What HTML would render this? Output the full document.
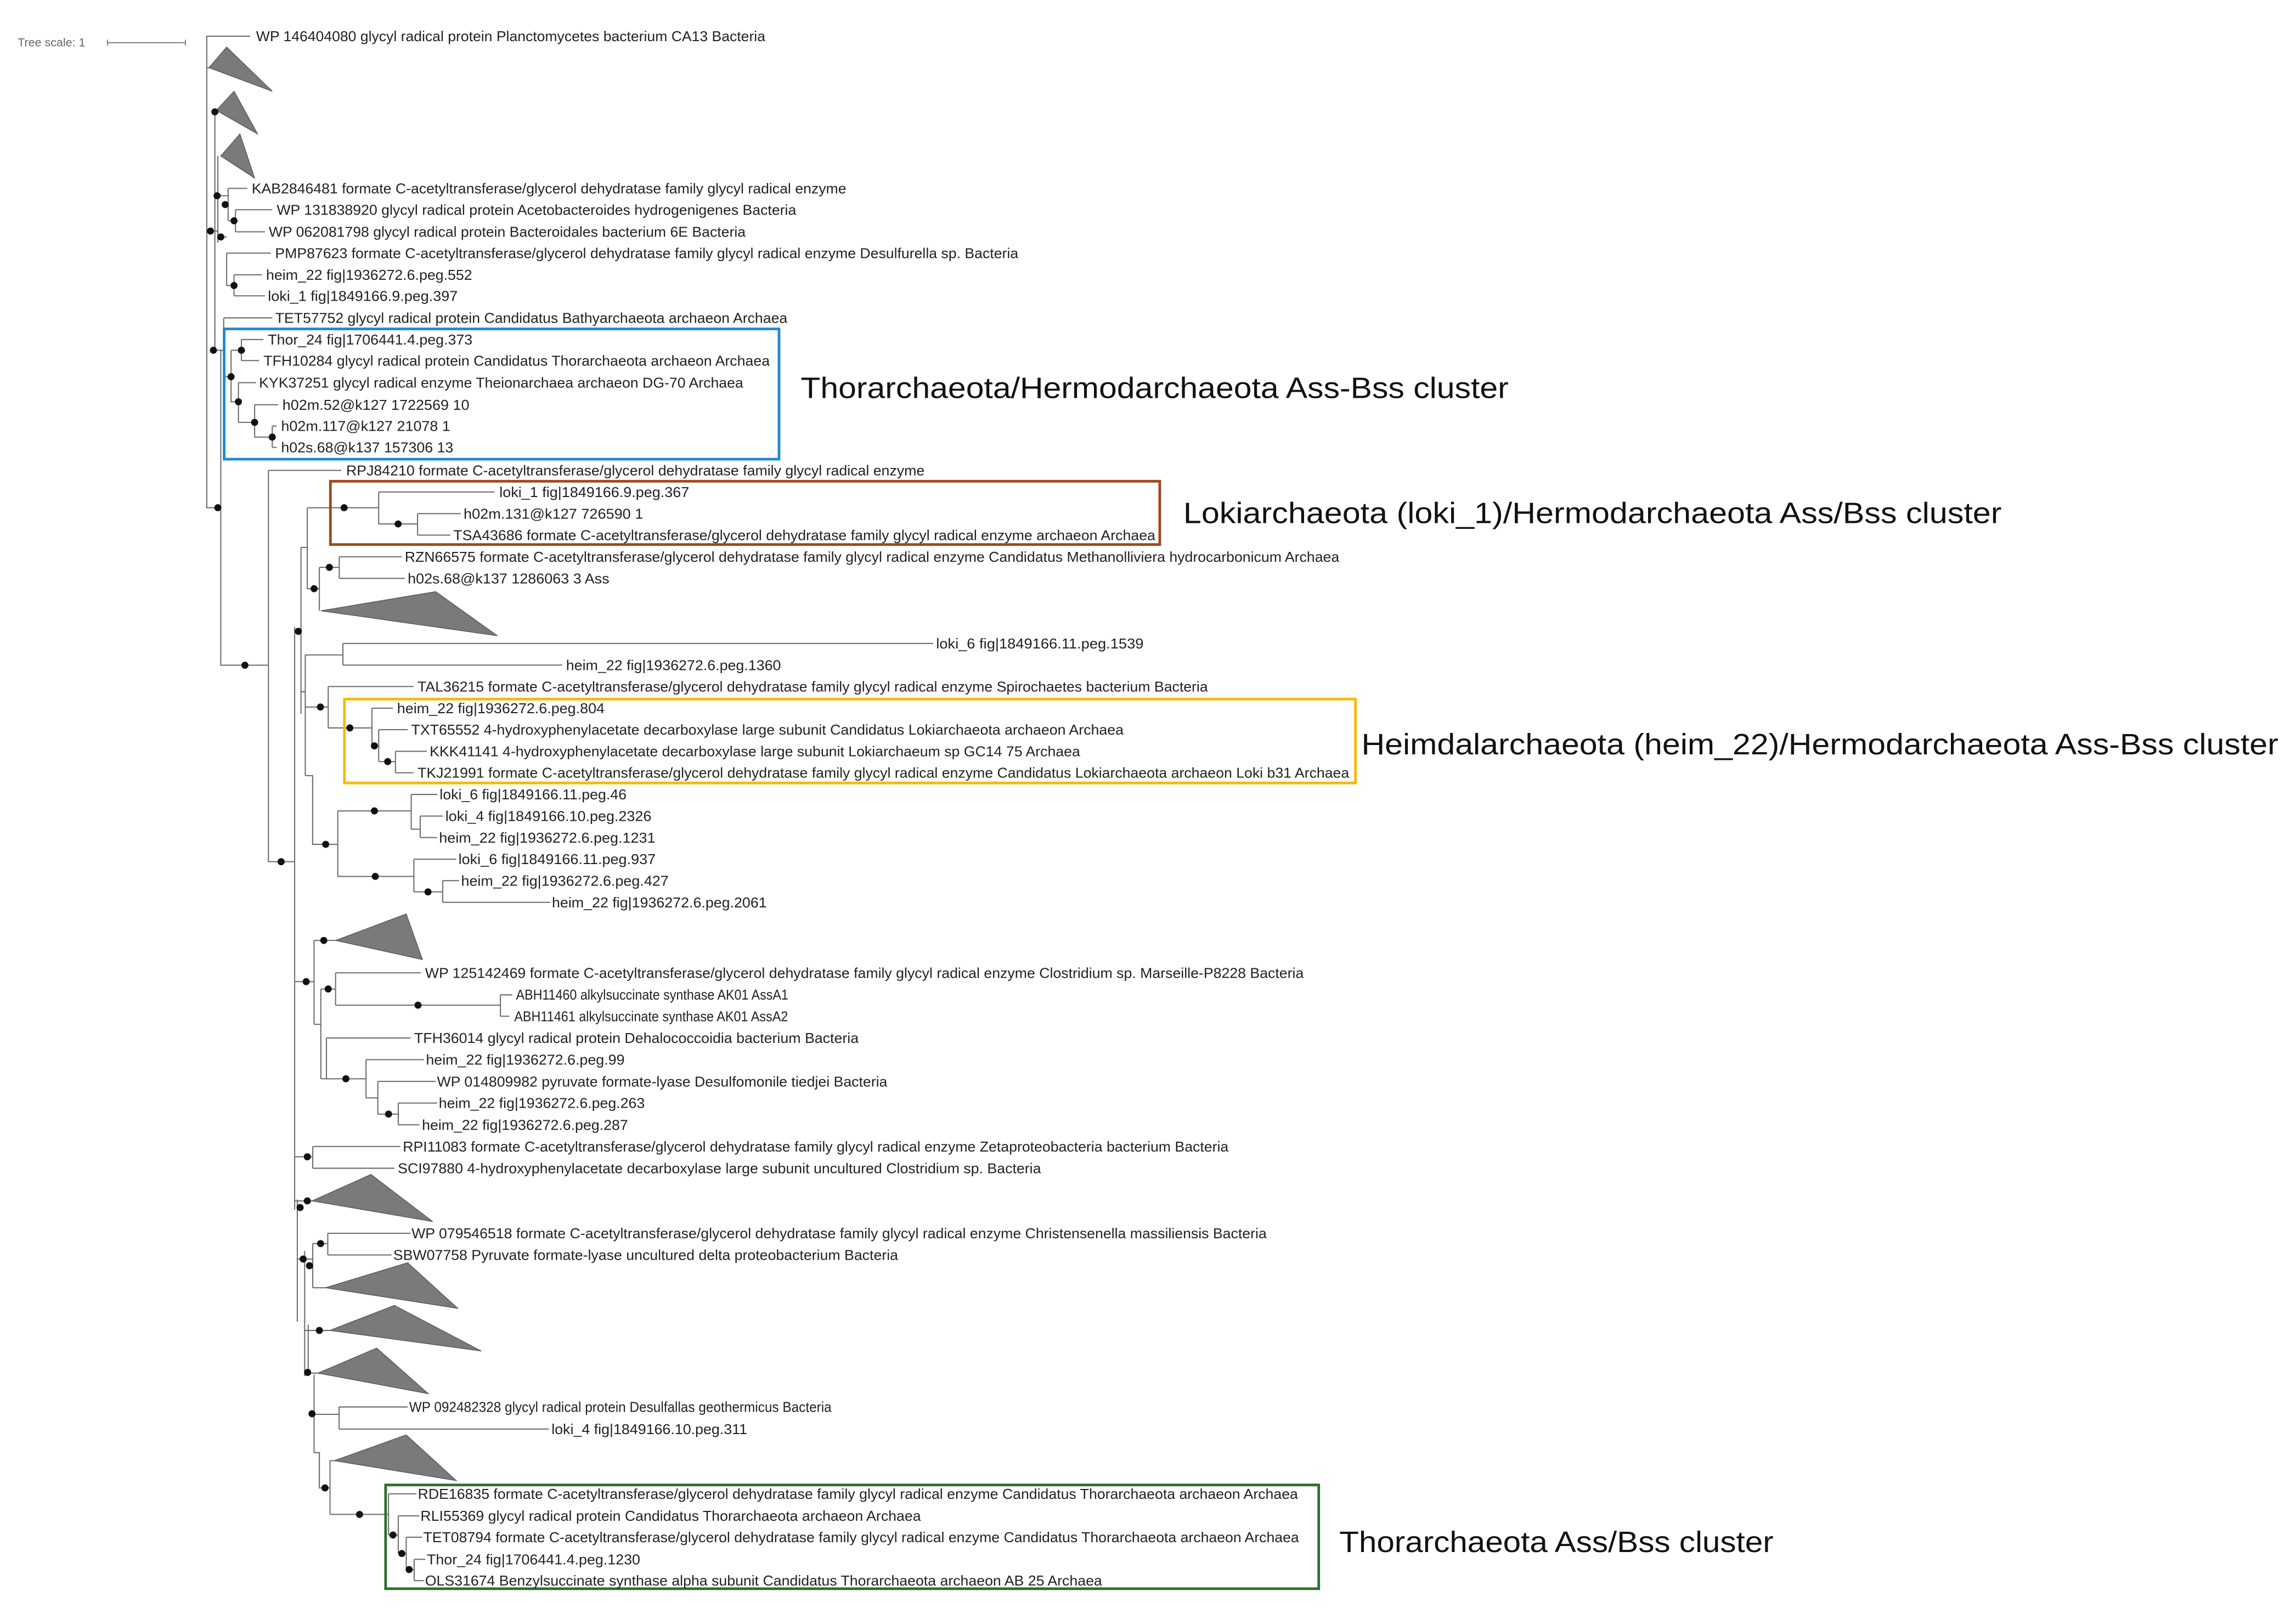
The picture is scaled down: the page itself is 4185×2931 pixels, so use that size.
<!DOCTYPE html>
<html><head><meta charset="utf-8"><style>
html,body{margin:0;padding:0;background:#fff;}
svg{display:block;}
text{font-family:"Liberation Sans",sans-serif;}
.t{font-size:9.5px;fill:#222;}
.b{font-size:20px;fill:#111;}
</style></head><body>
<svg width="4185" height="2931" viewBox="0 0 1560 1092.6" preserveAspectRatio="none" xmlns="http://www.w3.org/2000/svg">
<rect width="1560" height="1092.6" fill="#fff"/>
<!-- tree scale -->
<text x="12" y="31.5" style="font-size:8px;fill:#666">Tree scale: 1</text>
<path d="M73,29H126M73,27V31M126,27V31" stroke="#777" stroke-width="0.7" fill="none"/>

<g stroke="#6a6a6a" stroke-width="0.75" fill="none">
<path d="M170,24.6H140.5V345H150M150,238V452H182.4M140.5,46H142M140.5,157H148"/>
<path d="M146,76V238M148,106V165"/>
<path d="M148,133H155M155,128V150M155,128H168M155,150H160M160,142.5V157.5M160,142.5H185M160,157.5H180"/>
<path d="M148,161H154M154,172V194H159M154,172H184M159,186.7V201M159,186.7H178M159,201H180"/>
<path d="M146,238H152M152,216V256H157M152,216H185"/>
<path d="M157,238V273H162M157,238H164M164,230.7V245M164,230.7H179M164,245H176M162,260V287M162,260H174M162,287H173M173,275V297M173,275H189M173,297H185M185,289.5V304M185,289.5H188M185,304H188"/>
<path d="M182.4,319.6V585.5H200.2M182.4,319.6H232M200.2,426V822"/>
<path d="M200.2,429H204.5M204.5,372V485M207.4,445V527M204.5,470H207.4"/>
<path d="M204.5,372H208.8M208.8,345V400H217M208.8,345H257.3M257.3,334.3V356H283.7M257.3,334.3H336M283.7,349V363.6M283.7,349H313M283.7,363.6H306"/>
<path d="M217,385.5V415M217,385.5H230.5M230.5,378.3V393M230.5,378.3H273M230.5,393H275"/>
<path d="M207.4,445H233M233,437.2V451.9M233,437.2H634M233,451.9H382"/>
<path d="M207.4,480.4H223M223,466.5V494.6M223,466.5H281M223,494.6H252.7M252.7,481.2V506.8M252.7,481.2H267M252.7,506.8H257.3M257.3,495.8V517.5M257.3,495.8H277M257.3,517.5H268.7M268.7,510.5V525.1M268.7,510.5H290M268.7,525.1H281"/>
<path d="M207.4,527H212.4V573.7H229.5M229.5,551V595.5M229.5,551H279.4M279.4,539.8V563.4M279.4,539.8H297M279.4,563.4H285.5M285.5,554.5V569.1M285.5,554.5H301M285.5,569.1H297M229.5,595.5H281.2M281.2,583.8V606M281.2,583.8H310M281.2,606H300.8M300.8,598.4V613.1M300.8,598.4H312M300.8,613.1H374"/>
<path d="M202,815V898M207,850V935M209.4,900V935M213.4,934V987"/>
<path d="M200.2,667H208M213.4,639V696M208,667H213.4M213.4,639H228M213.4,696H218M218,672V733M218,672H228M228,661V683M228,661H286M228,683H340M340,676V690.5M340,676H348M340,690.5H346M218,733H221.8M221.8,705.3V733M221.8,705.3H279M221.8,733H248.7M248.7,720V746M248.7,720H288M248.7,746H256.7M256.7,734.8V757M256.7,734.8H296M256.7,757H270.6M270.6,749.5V764.3M270.6,749.5H297M270.6,764.3H285"/>
<path d="M200.2,786H212.5M212.5,779V793.8M212.5,779H272M212.5,793.8H268"/>
<path d="M200.2,816H212"/>
<path d="M202,855.5H212.5M212.5,845V875M212.5,845H222.7M222.7,838V852.7M222.7,838H279M222.7,852.7H266M212.5,875H221"/>
<path d="M207,904H224M209.4,933H216"/>
<path d="M213.4,961H230.4M230.4,956V971M230.4,956H277M230.4,971H373"/>
<path d="M213.4,987H217V1011H224.2M224.2,992.5V1029M224.2,992.5H227M224.2,1029H264M264,1015V1043M264,1015H283M264,1043H270.6M270.6,1030V1055.6M270.6,1030H285M270.6,1055.6H276M276,1044.5V1066.5M276,1044.5H287M276,1066.5H281.4M281.4,1059.5V1074M281.4,1059.5H289M281.4,1074H288"/>
</g>

<!-- collapsed triangles -->
<g fill="#7a7a7a" stroke="#555" stroke-width="0.5">
<polygon points="154,32 142,46 185,62"/>
<polygon points="159,62 147,75 175,91"/>
<polygon points="163,91 150,106 173,121"/>
<polygon points="296,402 218,415 338,432"/>
<polygon points="276,621 228,639 287,652"/>
<polygon points="252,798 212,816 294,830"/>
<polygon points="277,858 221,875 311,889"/>
<polygon points="268,887 224,904 327,918"/>
<polygon points="256,916 216,933 291,947"/>
<polygon points="276,975 227,992.5 310,1006"/>
</g>

<!-- bootstrap dots -->
<g fill="#111">
<circle cx="146" cy="76" r="2.4"/><circle cx="145" cy="238" r="2.4"/><circle cx="143" cy="157" r="2.4"/>
<circle cx="147.5" cy="133" r="2.4"/><circle cx="153" cy="139" r="2.4"/><circle cx="159" cy="150" r="2.4"/>
<circle cx="150" cy="161" r="2.4"/><circle cx="159" cy="194" r="2.4"/><circle cx="148" cy="345" r="2.4"/>
<circle cx="164" cy="238" r="2.4"/><circle cx="157" cy="256" r="2.4"/><circle cx="162" cy="273" r="2.4"/>
<circle cx="173" cy="287" r="2.4"/><circle cx="185" cy="297" r="2.4"/>
<circle cx="166.4" cy="452" r="2.4"/><circle cx="191" cy="585.5" r="2.4"/><circle cx="202.7" cy="429" r="2.4"/>
<circle cx="233.8" cy="345" r="2.4"/><circle cx="270.5" cy="356" r="2.4"/><circle cx="213.4" cy="400" r="2.4"/>
<circle cx="223.8" cy="385.5" r="2.4"/>
<circle cx="217.7" cy="480.4" r="2.4"/><circle cx="237.7" cy="494.6" r="2.4"/><circle cx="254.4" cy="506.8" r="2.4"/><circle cx="263.4" cy="517.5" r="2.4"/>
<circle cx="221.3" cy="573.7" r="2.4"/><circle cx="254.4" cy="551" r="2.4"/><circle cx="255" cy="595.5" r="2.4"/><circle cx="290.8" cy="606" r="2.4"/>
<circle cx="208" cy="667" r="2.4"/><circle cx="220" cy="639" r="2.4"/><circle cx="223" cy="672" r="2.4"/><circle cx="284" cy="683" r="2.4"/>
<circle cx="235" cy="733" r="2.4"/><circle cx="264" cy="757" r="2.4"/>
<circle cx="208.8" cy="786" r="2.4"/><circle cx="203.9" cy="820.5" r="2.4"/><circle cx="208.8" cy="816" r="2.4"/>
<circle cx="217.8" cy="845" r="2.4"/><circle cx="206" cy="855.5" r="2.4"/><circle cx="210.3" cy="860" r="2.4"/>
<circle cx="217" cy="904" r="2.4"/><circle cx="209" cy="932.5" r="2.4"/><circle cx="212" cy="960.6" r="2.4"/>
<circle cx="220.8" cy="1011" r="2.4"/><circle cx="244.3" cy="1029" r="2.4"/><circle cx="267" cy="1043" r="2.4"/>
<circle cx="273" cy="1055.6" r="2.4"/><circle cx="278" cy="1066.5" r="2.4"/>
</g>

<!-- cluster boxes -->
<g fill="none" stroke-width="1.8">
<rect x="152.3" y="223.5" width="377" height="88.5" stroke="#1f8ad2"/>
<rect x="224.5" y="327" width="563.5" height="43" stroke="#a1481c"/>
<rect x="234" y="475" width="687" height="57" stroke="#f6b90a"/>
<rect x="262" y="1009" width="634" height="70.5" stroke="#2f6e2f"/>
</g>

<g class="t">
<text x="174" y="28" textLength="346" lengthAdjust="spacingAndGlyphs">WP 146404080 glycyl radical protein Planctomycetes bacterium CA13 Bacteria</text>
<text x="171" y="131.4" textLength="404" lengthAdjust="spacingAndGlyphs">KAB2846481 formate C-acetyltransferase/glycerol dehydratase family glycyl radical enzyme</text>
<text x="188" y="145.9" textLength="353" lengthAdjust="spacingAndGlyphs">WP 131838920 glycyl radical protein Acetobacteroides hydrogenigenes Bacteria</text>
<text x="182.6" y="160.9" textLength="324" lengthAdjust="spacingAndGlyphs">WP 062081798 glycyl radical protein Bacteroidales bacterium 6E Bacteria</text>
<text x="186.9" y="175.4" textLength="505" lengthAdjust="spacingAndGlyphs">PMP87623 formate C-acetyltransferase/glycerol dehydratase family glycyl radical enzyme Desulfurella sp. Bacteria</text>
<text x="180.8" y="190.1" textLength="140" lengthAdjust="spacingAndGlyphs">heim_22 fig|1936272.6.peg.552</text>
<text x="182" y="204.4" textLength="129" lengthAdjust="spacingAndGlyphs">loki_1 fig|1849166.9.peg.397</text>
<text x="187" y="219.4" textLength="348" lengthAdjust="spacingAndGlyphs">TET57752 glycyl radical protein Candidatus Bathyarchaeota archaeon Archaea</text>
<text x="182" y="234.1" textLength="139" lengthAdjust="spacingAndGlyphs">Thor_24 fig|1706441.4.peg.373</text>
<text x="179" y="248.4" textLength="344" lengthAdjust="spacingAndGlyphs">TFH10284 glycyl radical protein Candidatus Thorarchaeota archaeon Archaea</text>
<text x="176" y="263.4" textLength="329" lengthAdjust="spacingAndGlyphs">KYK37251 glycyl radical enzyme Theionarchaea archaeon DG-70 Archaea</text>
<text x="191.9" y="278.4" textLength="127" lengthAdjust="spacingAndGlyphs">h02m.52@k127 1722569 10</text>
<text x="191" y="292.9" textLength="115" lengthAdjust="spacingAndGlyphs">h02m.117@k127 21078 1</text>
<text x="191" y="307.4" textLength="117" lengthAdjust="spacingAndGlyphs">h02s.68@k137 157306 13</text>
<text x="235.2" y="323" textLength="393" lengthAdjust="spacingAndGlyphs">RPJ84210 formate C-acetyltransferase/glycerol dehydratase family glycyl radical enzyme</text>
<text x="339.3" y="337.7" textLength="129" lengthAdjust="spacingAndGlyphs">loki_1 fig|1849166.9.peg.367</text>
<text x="315" y="352.4" textLength="122" lengthAdjust="spacingAndGlyphs">h02m.131@k127 726590 1</text>
<text x="308" y="367" textLength="477" lengthAdjust="spacingAndGlyphs">TSA43686 formate C-acetyltransferase/glycerol dehydratase family glycyl radical enzyme archaeon Archaea</text>
<text x="275" y="381.7" textLength="635" lengthAdjust="spacingAndGlyphs">RZN66575 formate C-acetyltransferase/glycerol dehydratase family glycyl radical enzyme Candidatus Methanolliviera hydrocarbonicum Archaea</text>
<text x="277" y="396.4" textLength="137" lengthAdjust="spacingAndGlyphs">h02s.68@k137 1286063 3 Ass</text>
<text x="636" y="440.6" textLength="141" lengthAdjust="spacingAndGlyphs">loki_6 fig|1849166.11.peg.1539</text>
<text x="384.6" y="455.3" textLength="146" lengthAdjust="spacingAndGlyphs">heim_22 fig|1936272.6.peg.1360</text>
<text x="283.7" y="469.9" textLength="537" lengthAdjust="spacingAndGlyphs">TAL36215 formate C-acetyltransferase/glycerol dehydratase family glycyl radical enzyme Spirochaetes bacterium Bacteria</text>
<text x="269.8" y="484.6" textLength="141" lengthAdjust="spacingAndGlyphs">heim_22 fig|1936272.6.peg.804</text>
<text x="279.4" y="499.2" textLength="484" lengthAdjust="spacingAndGlyphs">TXT65552 4-hydroxyphenylacetate decarboxylase large subunit Candidatus Lokiarchaeota archaeon Archaea</text>
<text x="291.9" y="513.9" textLength="442" lengthAdjust="spacingAndGlyphs">KKK41141 4-hydroxyphenylacetate decarboxylase large subunit Lokiarchaeum sp GC14 75 Archaea</text>
<text x="283.7" y="528.5" textLength="633" lengthAdjust="spacingAndGlyphs">TKJ21991 formate C-acetyltransferase/glycerol dehydratase family glycyl radical enzyme Candidatus Lokiarchaeota archaeon Loki b31 Archaea</text>
<text x="298.7" y="543.2" textLength="127" lengthAdjust="spacingAndGlyphs">loki_6 fig|1849166.11.peg.46</text>
<text x="302.6" y="557.9" textLength="140" lengthAdjust="spacingAndGlyphs">loki_4 fig|1849166.10.peg.2326</text>
<text x="298.3" y="572.5" textLength="147" lengthAdjust="spacingAndGlyphs">heim_22 fig|1936272.6.peg.1231</text>
<text x="311.5" y="587.2" textLength="134" lengthAdjust="spacingAndGlyphs">loki_6 fig|1849166.11.peg.937</text>
<text x="313.3" y="601.8" textLength="141" lengthAdjust="spacingAndGlyphs">heim_22 fig|1936272.6.peg.427</text>
<text x="375" y="616.5" textLength="146" lengthAdjust="spacingAndGlyphs">heim_22 fig|1936272.6.peg.2061</text>
<text x="288.8" y="664.4" textLength="597" lengthAdjust="spacingAndGlyphs">WP 125142469 formate C-acetyltransferase/glycerol dehydratase family glycyl radical enzyme Clostridium sp. Marseille-P8228 Bacteria</text>
<text x="350.6" y="679.2" textLength="185" lengthAdjust="spacingAndGlyphs">ABH11460 alkylsuccinate synthase AK01 AssA1</text>
<text x="349.4" y="693.9" textLength="186" lengthAdjust="spacingAndGlyphs">ABH11461 alkylsuccinate synthase AK01 AssA2</text>
<text x="281.4" y="708.7" textLength="302" lengthAdjust="spacingAndGlyphs">TFH36014 glycyl radical protein Dehalococcoidia bacterium Bacteria</text>
<text x="289.4" y="723.4" textLength="135" lengthAdjust="spacingAndGlyphs">heim_22 fig|1936272.6.peg.99</text>
<text x="296.9" y="738.2" textLength="306" lengthAdjust="spacingAndGlyphs">WP 014809982 pyruvate formate-lyase Desulfomonile tiedjei Bacteria</text>
<text x="298.1" y="752.9" textLength="140" lengthAdjust="spacingAndGlyphs">heim_22 fig|1936272.6.peg.263</text>
<text x="286.7" y="767.7" textLength="140" lengthAdjust="spacingAndGlyphs">heim_22 fig|1936272.6.peg.287</text>
<text x="273.7" y="782.4" textLength="561" lengthAdjust="spacingAndGlyphs">RPI11083 formate C-acetyltransferase/glycerol dehydratase family glycyl radical enzyme Zetaproteobacteria bacterium Bacteria</text>
<text x="270.3" y="797.2" textLength="437" lengthAdjust="spacingAndGlyphs">SCI97880 4-hydroxyphenylacetate decarboxylase large subunit uncultured Clostridium sp. Bacteria</text>
<text x="279.6" y="841.4" textLength="581" lengthAdjust="spacingAndGlyphs">WP 079546518 formate C-acetyltransferase/glycerol dehydratase family glycyl radical enzyme Christensenella massiliensis Bacteria</text>
<text x="267.2" y="856.1" textLength="343" lengthAdjust="spacingAndGlyphs">SBW07758 Pyruvate formate-lyase uncultured delta proteobacterium Bacteria</text>
<text x="278" y="959.4" textLength="287" lengthAdjust="spacingAndGlyphs">WP 092482328 glycyl radical protein Desulfallas geothermicus Bacteria</text>
<text x="374.7" y="974.4" textLength="133" lengthAdjust="spacingAndGlyphs">loki_4 fig|1849166.10.peg.311</text>
<text x="283.9" y="1018.4" textLength="598" lengthAdjust="spacingAndGlyphs">RDE16835 formate C-acetyltransferase/glycerol dehydratase family glycyl radical enzyme Candidatus Thorarchaeota archaeon Archaea</text>
<text x="285.7" y="1033.4" textLength="340" lengthAdjust="spacingAndGlyphs">RLI55369 glycyl radical protein Candidatus Thorarchaeota archaeon Archaea</text>
<text x="287.6" y="1047.9" textLength="595" lengthAdjust="spacingAndGlyphs">TET08794 formate C-acetyltransferase/glycerol dehydratase family glycyl radical enzyme Candidatus Thorarchaeota archaeon Archaea</text>
<text x="290" y="1062.9" textLength="145" lengthAdjust="spacingAndGlyphs">Thor_24 fig|1706441.4.peg.1230</text>
<text x="288.8" y="1077.4" textLength="460" lengthAdjust="spacingAndGlyphs">OLS31674 Benzylsuccinate synthase alpha subunit Candidatus Thorarchaeota archaeon AB 25 Archaea</text>
</g>

<g class="b">
<text x="544" y="270.5" textLength="481" lengthAdjust="spacingAndGlyphs">Thorarchaeota/Hermodarchaeota Ass-Bss cluster</text>
<text x="804" y="355.5" textLength="556" lengthAdjust="spacingAndGlyphs">Lokiarchaeota (loki_1)/Hermodarchaeota Ass/Bss cluster</text>
<text x="925" y="512.5" textLength="623" lengthAdjust="spacingAndGlyphs">Heimdalarchaeota (heim_22)/Hermodarchaeota Ass-Bss cluster</text>
<text x="910" y="1054.5" textLength="295" lengthAdjust="spacingAndGlyphs">Thorarchaeota Ass/Bss cluster</text>
</g>
</svg>
</body></html>
